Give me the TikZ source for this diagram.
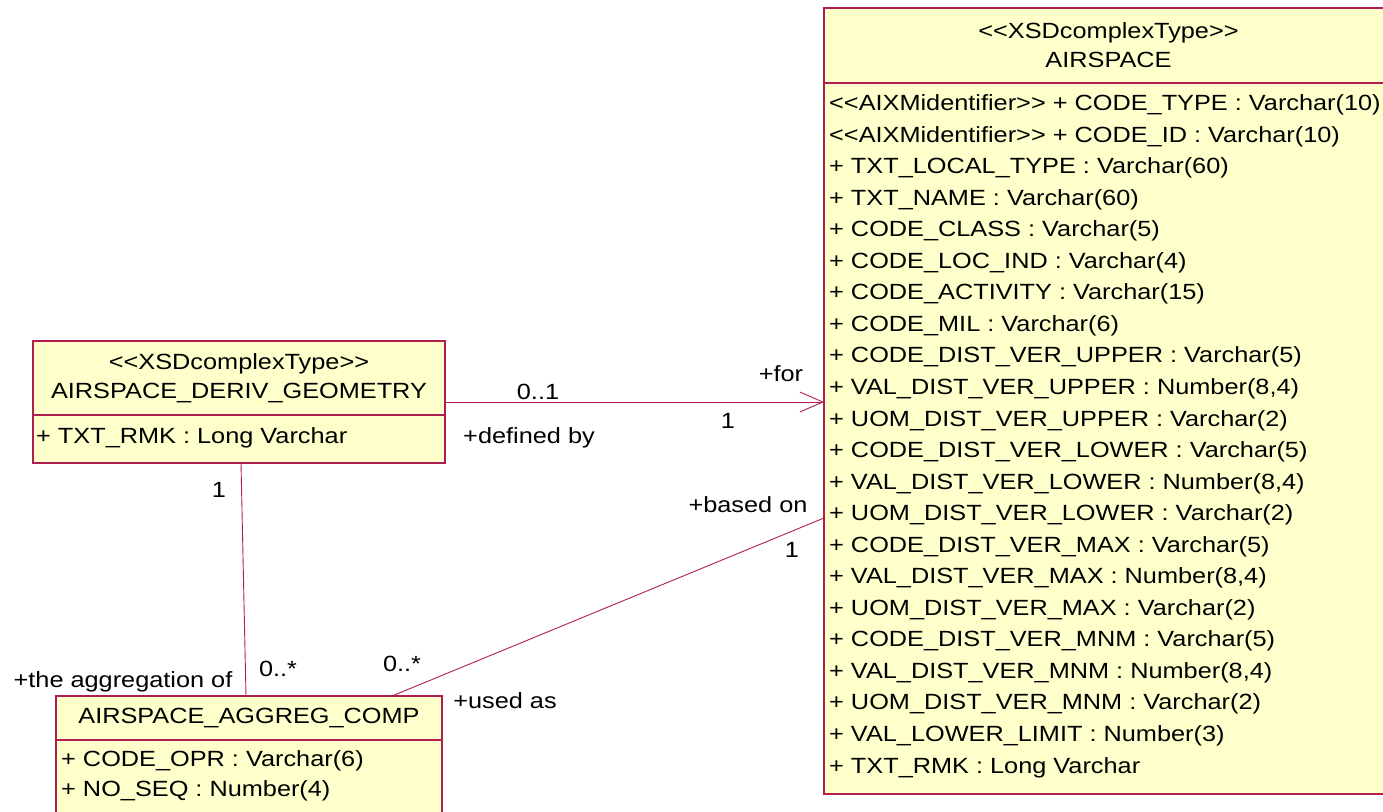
\documentclass[tikz,border=0pt]{standalone}
\usepackage{fontspec}
\usetikzlibrary{positioning,arrows.meta,calc}
\newfontfamily\umlfamily{Liberation Sans}[FakeStretch=1.15]
\definecolor{UmlBorder}{RGB}{176,30,80}
\definecolor{UmlFill}{RGB}{255,255,204}
\tikzset{
  classhead/.style={draw=UmlBorder,fill=UmlFill,line width=1.2pt,outer sep=0pt,
    align=center,font=\umlfamily\fontsize{22}{29}\selectfont},
  classbody/.style={draw=UmlBorder,fill=UmlFill,line width=1.2pt,outer sep=0pt},
  attr/.style={anchor=base west,inner sep=0pt,font=\umlfamily\fontsize{22}{26}\selectfont},
  role/.style={anchor=base,inner sep=0pt,font=\umlfamily\fontsize{22}{26}\selectfont},
  assoc/.style={draw=UmlBorder,line width=0.9pt},
  navassoc/.style={assoc,-{Straight Barb[length=23pt,width=20pt]}}
}

\begin{document}
\begin{tikzpicture}[x=1pt,y=-1pt]
  \path[use as bounding box] (0,0) rectangle (1383,811);
  \node[classhead,minimum width=569pt,minimum height=75pt] (airhead) at (1108.5,45.5)
    {<<XSDcomplexType>>\\AIRSPACE};
  \node[classbody,below=0pt of airhead,minimum width=569pt,minimum height=711pt] (airbody) {};
  \foreach \txt [count=\i from 0] in {
      <<AIXMidentifier>> + CODE\_TYPE : Varchar(10),
      <<AIXMidentifier>> + CODE\_ID : Varchar(10),
      + TXT\_LOCAL\_TYPE : Varchar(60),
      + TXT\_NAME : Varchar(60),
      + CODE\_CLASS : Varchar(5),
      + CODE\_LOC\_IND : Varchar(4),
      + CODE\_ACTIVITY : Varchar(15),
      + CODE\_MIL : Varchar(6),
      + CODE\_DIST\_VER\_UPPER : Varchar(5),
      {+ VAL\_DIST\_VER\_UPPER : Number(8,4)},
      + UOM\_DIST\_VER\_UPPER : Varchar(2),
      + CODE\_DIST\_VER\_LOWER : Varchar(5),
      {+ VAL\_DIST\_VER\_LOWER : Number(8,4)},
      + UOM\_DIST\_VER\_LOWER : Varchar(2),
      + CODE\_DIST\_VER\_MAX : Varchar(5),
      {+ VAL\_DIST\_VER\_MAX : Number(8,4)},
      + UOM\_DIST\_VER\_MAX : Varchar(2),
      + CODE\_DIST\_VER\_MNM : Varchar(5),
      {+ VAL\_DIST\_VER\_MNM : Number(8,4)},
      + UOM\_DIST\_VER\_MNM : Varchar(2),
      + VAL\_LOWER\_LIMIT : Number(3),
      + TXT\_RMK : Long Varchar}
    \node[attr] (airattr\i) at ($(airbody.north west)+(5,27.5+31.55*\i)$) {\txt};

  \node[classhead,minimum width=412pt,minimum height=74pt] (derivhead) at (239,378)
    {<<XSDcomplexType>>\\AIRSPACE\_DERIV\_GEOMETRY};
  \node[classbody,below=0pt of derivhead,minimum width=412pt,minimum height=48pt] (derivbody) {};
  \node[attr] (derivattr) at ($(derivbody.north west)+(3,28)$) {+ TXT\_RMK : Long Varchar};

  \node[classhead,minimum width=386pt,minimum height=44pt] (agghead) at (249,718)
    {AIRSPACE\_AGGREG\_COMP};
  \node[classbody,below=0pt of agghead,minimum width=386pt,minimum height=90pt] (aggbody) {};
  \node[attr] (aggopr) at ($(aggbody.north west)+(5,26)$) {+ CODE\_OPR : Varchar(6)};
  \node[attr] (aggseq) at ($(aggbody.north west)+(5,56)$) {+ NO\_SEQ : Number(4)};

  \path (derivhead.south east) ++(0,-13) coordinate (forstart);
  \draw[navassoc] (forstart) -- (forstart -| airbody.west);
  \draw[assoc] ([xshift=2pt]derivbody.south) -- ([xshift=-3pt]agghead.north);
  \draw[assoc] ([xshift=-50pt]agghead.north east) -- ($(airbody.west)+(0,79.5)$);

  \node[role] (formult) at (538,399) {0..1};
  \node[role] (forrole) at (781,381) {+for};
  \node[role] (defmult) at (728,428) {1};
  \node[role] (defrole) at (529,443) {+defined by};
  \node[role] (derivmult) at (219,497) {1};
  \node[role] (basedrole) at (748,512) {+based on};
  \node[role] (basedmult) at (792,557) {1};
  \node[role] (aggrole) at (123,687) {+the aggregation of};
  \node[role] (aggmult) at (278,676) {0..*};
  \node[role] (usedmult) at (402,671) {0..*};
  \node[role] (usedrole) at (505,708) {+used as};
\end{tikzpicture}
\end{document}
